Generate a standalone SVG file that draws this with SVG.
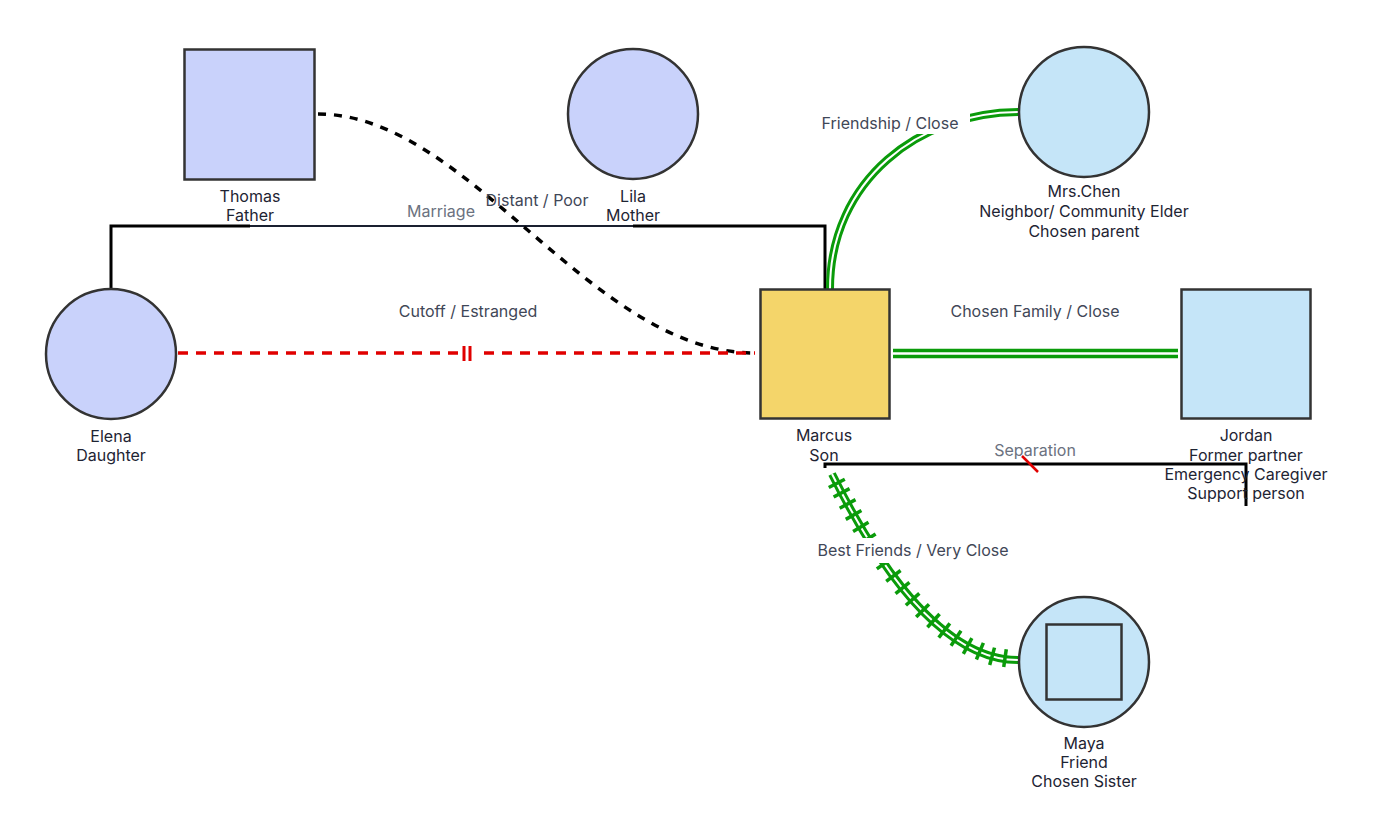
<svg xmlns="http://www.w3.org/2000/svg" width="1380" height="839" viewBox="0 0 1380 839">
<style>
text{font-family:Inter,"Noto Sans","Liberation Sans",sans-serif;font-size:16px;text-anchor:middle}
.lbl{fill:#1e2433}
.cl{fill:#3f4757}
.gl{fill:#6b7280}
.sq{stroke:#333;stroke-width:2.5}
.lav{fill:#c9d2fb}
.blu{fill:#c5e5f8}
.g{fill:none;stroke:#0a9b0a;stroke-width:8}
.gw{fill:none;stroke:#fff;stroke-width:2}
.bk{fill:none;stroke:#000;stroke-width:3}
</style>
<defs>
  <marker id="tick" viewBox="-10 -10 20 20" markerWidth="20" markerHeight="20" refX="0" refY="0" orient="auto" markerUnits="userSpaceOnUse">
    <line x1="0" y1="-9" x2="0" y2="9" stroke="#0a9b0a" stroke-width="3.5"/>
  </marker>
</defs>
<rect width="1380" height="839" fill="#fff"/>
<g id="connectors">
  <!-- Marriage -->
  <polyline class="bk" points="111,289 111,226 250,226"/>
  <line x1="250" y1="226" x2="633" y2="226" stroke="#1a2030" stroke-width="2"/>
  <polyline class="bk" points="633,226 825,226 825,289"/>
  <text class="gl" x="441" y="217">Marriage</text>
  <!-- Distant / Poor -->
  <path d="M318,114 C470,114 590,353 755,353" fill="none" stroke="#000" stroke-width="3.5" stroke-dasharray="8 8"/>
  <text class="cl" x="537" y="206">Distant / Poor</text>
  <!-- Cutoff -->
  <line x1="178" y1="353" x2="755" y2="353" stroke="#e00000" stroke-width="3.5" stroke-dasharray="10 8"/>
  <rect x="460" y="347" width="16" height="12" fill="#fff"/>
  <line x1="464" y1="346" x2="464" y2="361" stroke="#e00000" stroke-width="3"/>
  <line x1="470" y1="346" x2="470" y2="361" stroke="#e00000" stroke-width="3"/>
  <text class="cl" x="468" y="317">Cutoff / Estranged</text>
  <!-- Friendship / Close -->
  <path class="g" d="M830,289 C830,180 920,112 1019,112"/>
  <path class="gw" d="M830,289 C830,180 920,112 1019,112"/>
  <rect x="812" y="112" width="158" height="22" fill="#fff"/>
  <text class="cl" x="890" y="129">Friendship / Close</text>
  <!-- Chosen Family / Close -->
  <line x1="893" y1="350.5" x2="1178" y2="350.5" stroke="#0a9b0a" stroke-width="3.5"/>
  <line x1="893" y1="356.5" x2="1178" y2="356.5" stroke="#0a9b0a" stroke-width="3.5"/>
  <text class="cl" x="1035" y="317">Chosen Family / Close</text>
  <!-- Separation -->
  <polyline class="bk" points="825,468 825,464 1246,464 1246,506" stroke-width="2.5"/>
  <line x1="1022" y1="456" x2="1038" y2="472" stroke="#e00000" stroke-width="2.5"/>
  <text class="gl" x="1035" y="456">Separation</text>
  <!-- Best Friends / Very Close -->
  <path class="g" d="M832,474 C860,530 930,660 1018,660"/>
  <path class="gw" d="M832,474 C860,530 930,660 1018,660"/>
  <polyline fill="none" stroke="none" marker-mid="url(#tick)" points="832,474 836.8,483.4 841.6,492.8 847.6,503.9 853.6,514.9 860.8,526.9 868.0,538.8 876.1,551.3 884.2,563.7 893.4,575.9 902.5,588.0 912.6,599.3 922.6,610.6 933.5,620.6 944.3,630.5 956.0,638.3 967.6,646.0 979.9,651.2 992.1,656.3 1005.0,658.2 1018,660"/>
  <rect x="810" y="538" width="206" height="25" fill="#fff"/>
  <text class="cl" x="913" y="556">Best Friends / Very Close</text>
</g>
<g id="thomas">
  <rect class="sq lav" x="184.5" y="49.5" width="130" height="130"/>
  <text class="lbl" x="250" y="202">Thomas</text>
  <text class="lbl" x="250" y="221">Father</text>
</g>
<g id="lila">
  <circle class="sq lav" cx="633" cy="114" r="65"/>
  <text class="lbl" x="633" y="202">Lila</text>
  <text class="lbl" x="633" y="221">Mother</text>
</g>
<g id="elena">
  <circle class="sq lav" cx="111" cy="354" r="65"/>
  <text class="lbl" x="111" y="442">Elena</text>
  <text class="lbl" x="111" y="461">Daughter</text>
</g>
<g id="marcus">
  <rect class="sq" fill="#f4d56a" x="760.5" y="289.5" width="129" height="129"/>
  <text class="lbl" x="824" y="441">Marcus</text>
  <text class="lbl" x="824" y="461">Son</text>
</g>
<g id="jordan">
  <rect class="sq blu" x="1181.5" y="289.5" width="129" height="129"/>
  <text class="lbl" x="1246" y="441">Jordan</text>
  <text class="lbl" x="1246" y="461">Former partner</text>
  <text class="lbl" x="1246" y="480">Emergency Caregiver</text>
  <text class="lbl" x="1246" y="499">Support person</text>
</g>
<g id="mrschen">
  <circle class="sq blu" cx="1084" cy="112" r="65"/>
  <text class="lbl" x="1084" y="197">Mrs.Chen</text>
  <text class="lbl" x="1084" y="217">Neighbor/ Community Elder</text>
  <text class="lbl" x="1084" y="237">Chosen parent</text>
</g>
<g id="maya">
  <circle class="sq blu" cx="1084" cy="662" r="65"/>
  <rect class="sq blu" x="1046.5" y="624.5" width="75" height="75"/>
  <text class="lbl" x="1084" y="749">Maya</text>
  <text class="lbl" x="1084" y="768">Friend</text>
  <text class="lbl" x="1084" y="787">Chosen Sister</text>
</g>
</svg>
